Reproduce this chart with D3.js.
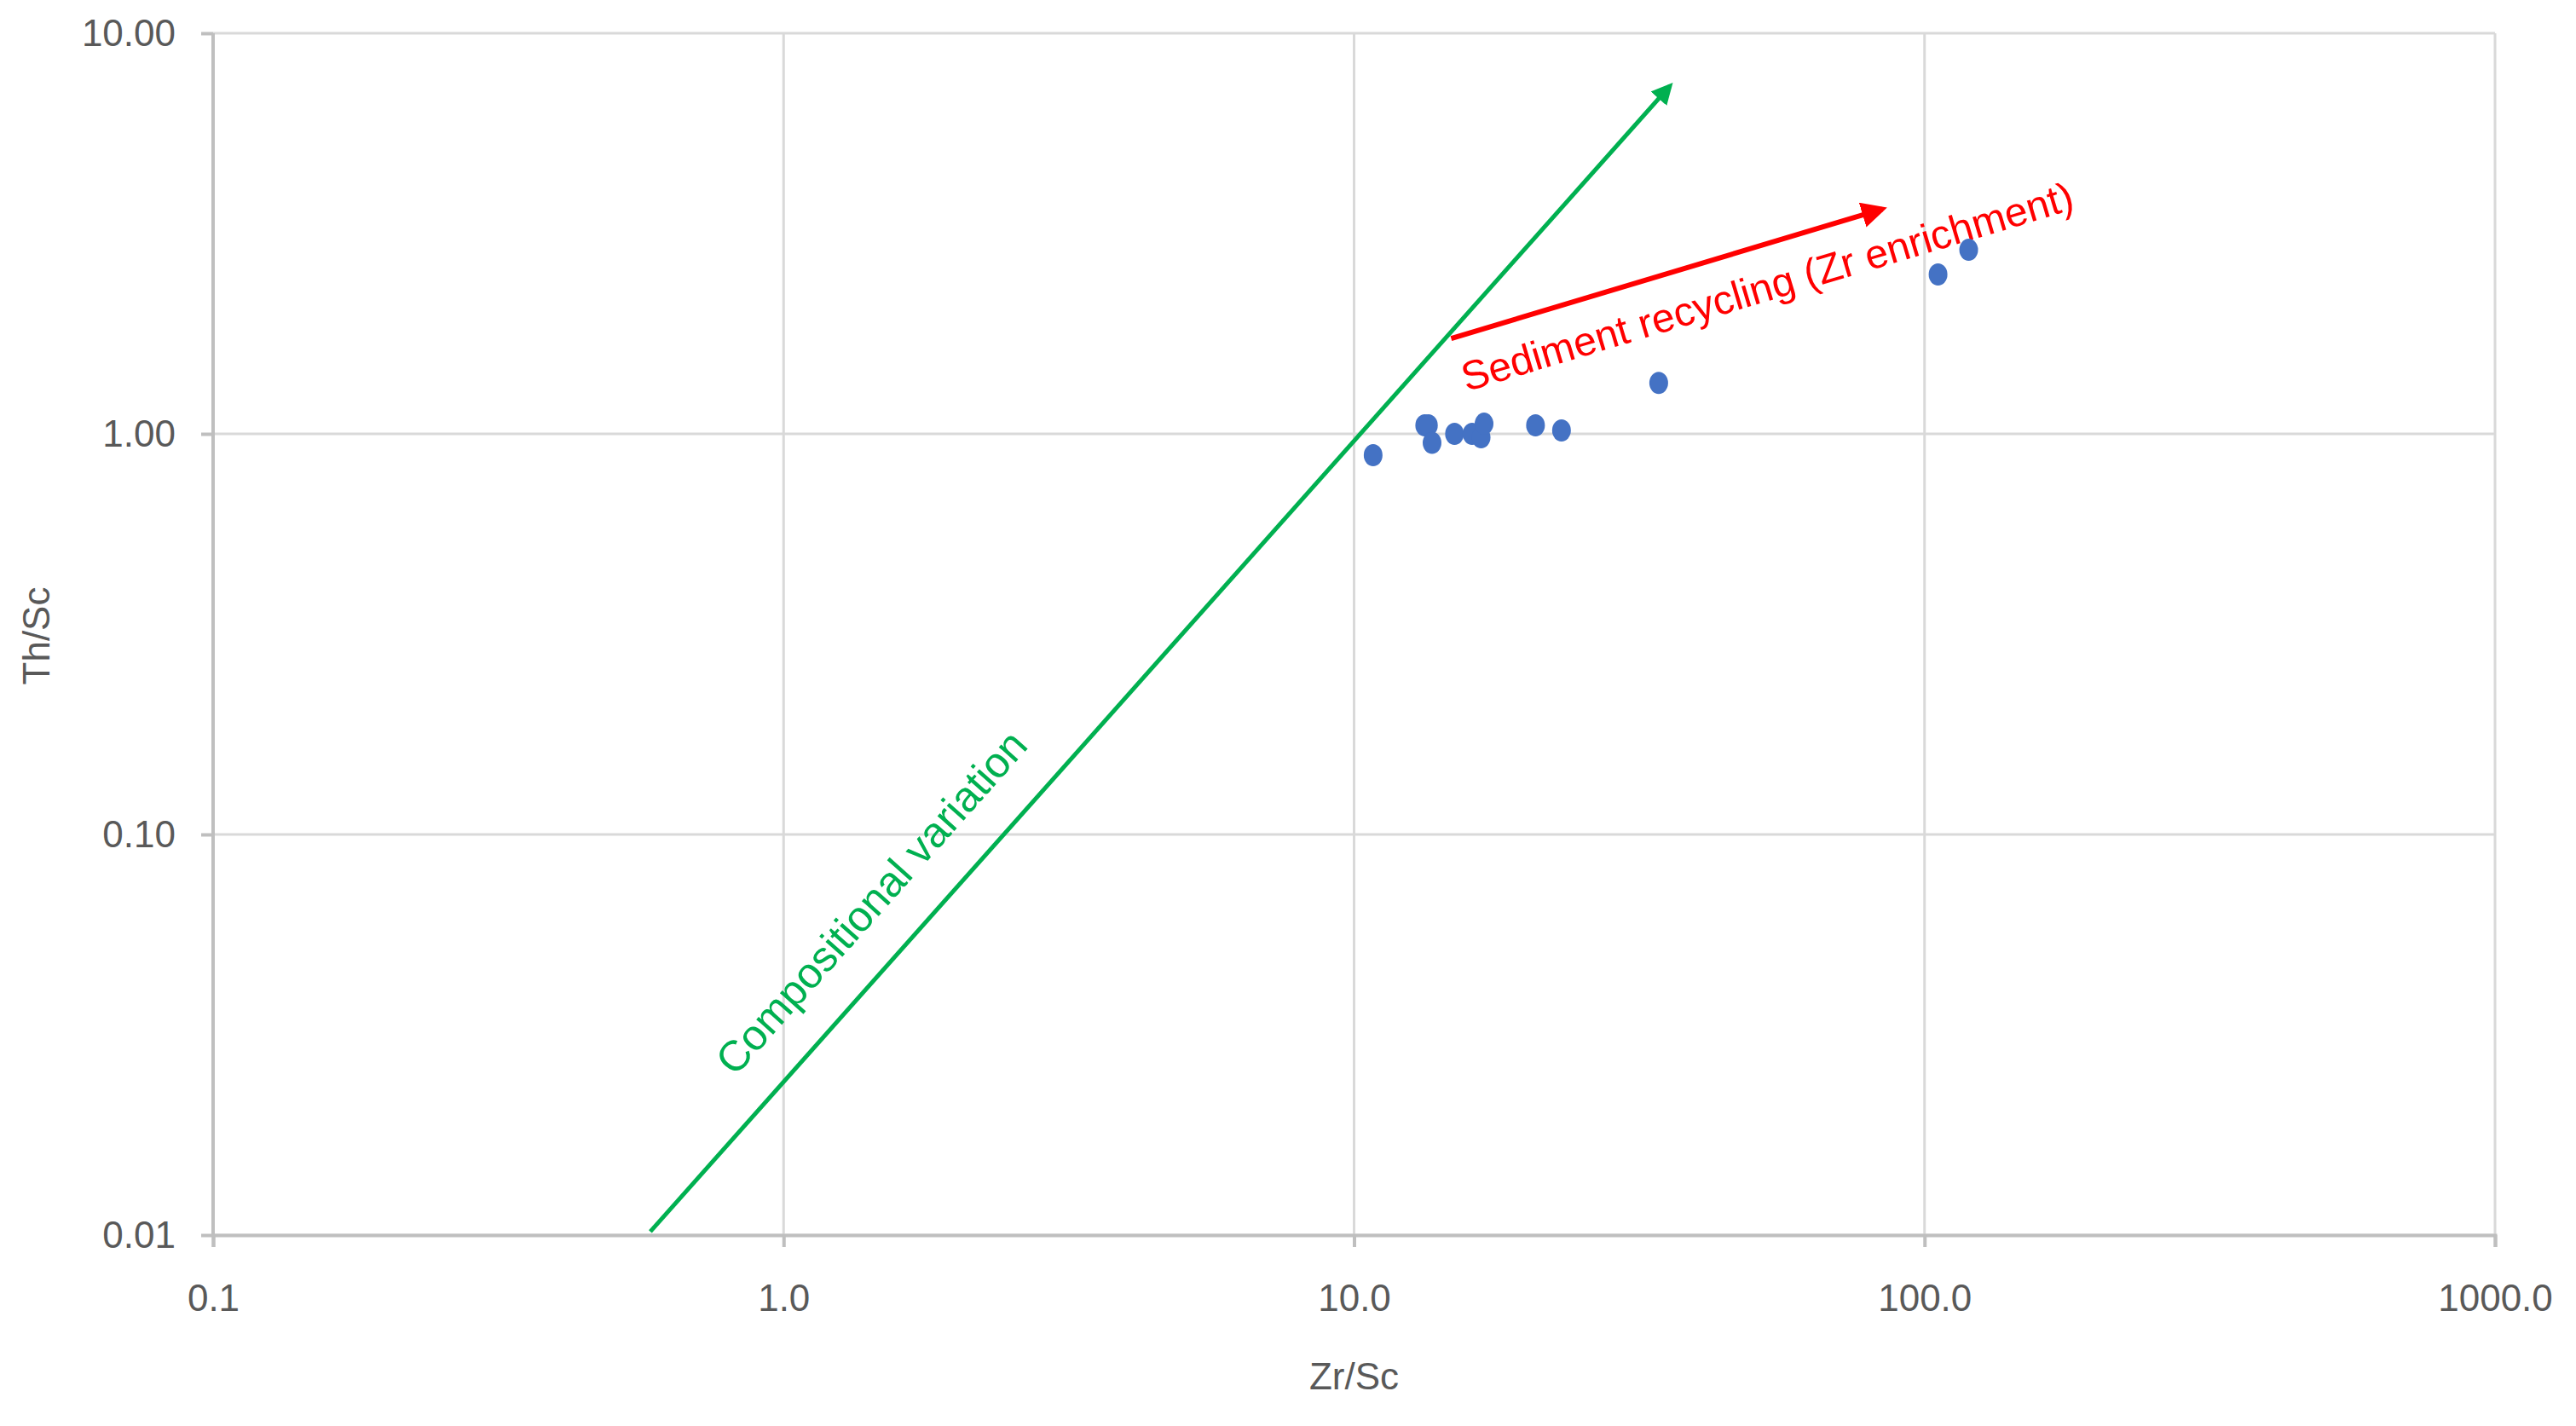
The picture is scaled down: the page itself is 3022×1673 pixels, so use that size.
<!DOCTYPE html>
<html><head><meta charset="utf-8">
<script src="https://cdn.jsdelivr.net/npm/d3@7"></script>
<style>body{margin:0;background:#fff}</style></head>
<body><svg id="c" width="3022" height="1673"></svg>
<script>
const zrSc = [10.8,13.3,13.5,13.7,15.0,16.1,16.7,16.9,20.8,23.1,34.2,105.6,119.5];
const thSc = [0.885,1.05,1.05,0.95,1.0,1.0,0.98,1.06,1.05,1.02,1.34,2.5,2.88];
const xTicks = [0.1,1,10,100,1000];
const yTicks = [0.01,0.1,1,10];
const greenLine = [[0.584,0.0102],[35.8,7.39]];
const redLine = [[14.8,1.73],[84.3,3.64]];

const svg = d3.select("#c");
const L=250,R=2927,T=39,B=1449;
const x = d3.scaleLog().domain([0.1,1000]).range([L,R]);
const y = d3.scaleLog().domain([0.01,10]).range([B,T]);
const font = "Liberation Sans, Arial, sans-serif";
const defs = svg.append("defs");
[["g","#00b050"],["r","#ff0000"]].forEach(([id,c])=>{
  defs.append("marker").attr("id","m"+id).attr("viewBox","0 0 10 10").attr("refX",8).attr("refY",5)
   .attr("markerWidth",5).attr("markerHeight",5).attr("orient","auto")
   .append("path").attr("d","M0,0L10,5L0,10z").attr("fill",c);
});
svg.append("g").selectAll("line").data(xTicks).join("line")
  .attr("x1",d=>x(d)).attr("x2",d=>x(d)).attr("y1",T).attr("y2",B).attr("stroke","#d9d9d9").attr("stroke-width",3);
svg.append("g").selectAll("line").data(yTicks).join("line")
  .attr("x1",L).attr("x2",R).attr("y1",d=>y(d)).attr("y2",d=>y(d)).attr("stroke","#d9d9d9").attr("stroke-width",3);
const xa = svg.append("g").attr("transform",`translate(0,${B})`)
  .call(d3.axisBottom(x).tickValues(xTicks).tickFormat(d3.format(".1f")).tickSize(14).tickPadding(44));
const ya = svg.append("g").attr("transform",`translate(${L},0)`)
  .call(d3.axisLeft(y).tickValues(yTicks).tickFormat(d3.format(".2f")).tickSize(14).tickPadding(30));
[xa,ya].forEach(a=>{
  a.selectAll("path,line").attr("stroke","#bfbfbf").attr("stroke-width",4);
  a.selectAll("text").attr("font-family",font).attr("font-size",44).attr("fill","#595959");
});
ya.select(".domain").remove();
svg.append("line").attr("x1",L).attr("x2",L).attr("y1",T).attr("y2",B).attr("stroke","#bfbfbf").attr("stroke-width",4);
svg.append("text").attr("x",(L+R)/2).attr("y",1630).attr("text-anchor","middle")
 .attr("font-family",font).attr("font-size",44).attr("fill","#595959").text("Zr/Sc");
svg.append("text").attr("transform","translate(58,746) rotate(-90)").attr("text-anchor","middle")
 .attr("font-family",font).attr("font-size",44).attr("fill","#595959").text("Th/Sc");
const ln = d3.line().x(d=>x(d[0])).y(d=>y(d[1]));
svg.append("path").attr("d",ln(greenLine)).attr("stroke","#00b050").attr("stroke-width",5).attr("fill","none").attr("marker-end","url(#mg)");
svg.append("path").attr("d",ln(redLine)).attr("stroke","#ff0000").attr("stroke-width",6).attr("fill","none").attr("marker-end","url(#mr)");
function ang(p){const dx=x(p[1][0])-x(p[0][0]),dy=y(p[1][1])-y(p[0][1]);return Math.atan2(dy,dx)*180/Math.PI;}
svg.append("text").attr("transform",`translate(1035,1070) rotate(${ang(greenLine)})`).attr("text-anchor","middle")
 .attr("font-family",font).attr("font-size",50).attr("fill","#00b050").text("Compositional variation");
svg.append("text").attr("transform",`translate(2078,352) rotate(${ang(redLine)})`).attr("text-anchor","middle")
 .attr("font-family",font).attr("font-size",48).attr("fill","#ff0000").text("Sediment recycling (Zr enrichment)");
svg.append("g").selectAll("ellipse").data(zrSc.map((v,i)=>[v,thSc[i]])).join("ellipse")
 .attr("cx",d=>x(d[0])).attr("cy",d=>y(d[1])).attr("rx",11).attr("ry",13).attr("fill","#4472c4");
</script></body></html>
